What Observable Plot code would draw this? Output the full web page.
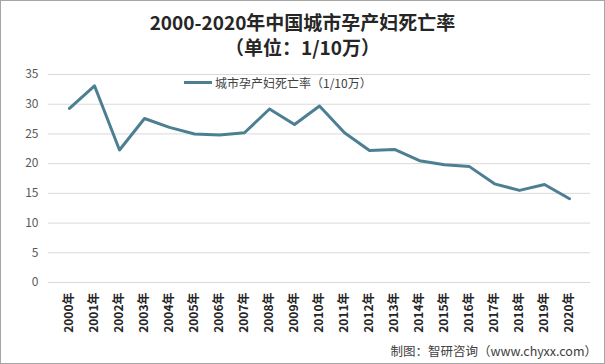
<!DOCTYPE html>
<html>
<head>
<meta charset="utf-8">
<script src="https://cdn.jsdelivr.net/npm/d3@7"></script>
<script src="https://cdn.jsdelivr.net/npm/@observablehq/plot@0.6"></script>
<style>
  html, body { margin: 0; padding: 0; background: #fff; }
  #wrap { position: relative; width: 605px; height: 364px; overflow: hidden; font-family: "Noto Sans CJK SC", "Noto Sans", sans-serif; }
  #frame { position: absolute; left: 0; top: 0; width: 603px; height: 362px; border: 1px solid #a6a6a6; pointer-events: none; }
  #chart { position: absolute; left: 0; top: 0; }
  .title { position: absolute; left: 0; width: 605px; text-align: center; font-weight: bold; color: #262626; font-size: 19px; line-height: 1; }
  #legend { position: absolute; left: 184px; top: 74px; font-size: 12px; color: #404040; display: flex; align-items: center; }
  #legend .sw { width: 28px; height: 3px; background: #4d7f92; margin-right: 3px; }
  #caption { position: absolute; right: 8px; top: 341px; font-size: 12.5px; color: #404040; }
</style>
</head>
<body>
<div id="wrap">
  <div id="chart"></div>
  <div class="title" style="top:12px">2000-2020年中国城市孕产妇死亡率</div>
  <div class="title" style="top:37px">（单位：1/10万）</div>
  <div id="legend"><span class="sw"></span><span>城市孕产妇死亡率（1/10万）</span></div>
  <div id="caption">制图：智研咨询（www.chyxx.com）</div>
  <div id="frame"></div>
</div>
<script>
const years = ["2000年","2001年","2002年","2003年","2004年","2005年","2006年","2007年","2008年","2009年","2010年","2011年","2012年","2013年","2014年","2015年","2016年","2017年","2018年","2019年","2020年"];
const rates = [29.3, 33.1, 22.3, 27.6, 26.1, 25.0, 24.8, 25.2, 29.2, 26.6, 29.7, 25.2, 22.2, 22.4, 20.5, 19.8, 19.5, 16.6, 15.5, 16.5, 14.1];
const yTicks = [0, 5, 10, 15, 20, 25, 30, 35];

const data = years.map((y, i) => ({year: y, value: rates[i]}));

const chart = Plot.plot({
  width: 605,
  height: 364,
  marginTop: 74,
  marginBottom: 82,
  marginLeft: 48,
  marginRight: 15,
  style: {fontFamily: "'Noto Sans CJK SC', 'Noto Sans', sans-serif", background: "transparent"},
  x: {type: "point", domain: years, padding: 0.5},
  y: {domain: [0, 35]},
  marks: [
    Plot.gridY(yTicks, {stroke: "#d9d9d9", strokeOpacity: 1}),
    Plot.axisY(yTicks, {tickSize: 0, tickPadding: 10, fontSize: 12, fill: "#595959", label: null}),
    Plot.axisX({tickSize: 0, tickPadding: 10, tickRotate: -90, fontSize: 12, fontWeight: "bold", fill: "#262626", label: null}),
    Plot.line(data, {x: "year", y: "value", stroke: "#4d7f92", strokeWidth: 3, strokeLinejoin: "round"})
  ]
});
document.getElementById("chart").appendChild(chart);
</script>
</body>
</html>
